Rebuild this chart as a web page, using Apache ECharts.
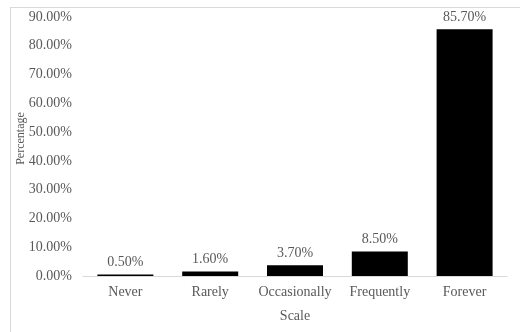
<!DOCTYPE html>
<html>
<head>
<meta charset="utf-8">
<script src="https://cdn.jsdelivr.net/npm/echarts@6/dist/echarts.min.js"></script>
<style>
  html, body { margin: 0; padding: 0; background: #fff; }
  #frame { position: absolute; left: 10px; top: 7px; width: 520px; height: 340px; border: 1px solid #d9d9d9; box-sizing: border-box; }
  #chart { position: absolute; left: 0; top: 0; width: 520px; height: 332px; }
</style>
</head>
<body>
<div id="frame"></div>
<div id="chart"></div>
<script>
// Frequency scale categories and their share of respondents (%)
const categories = ['Never', 'Rarely', 'Occasionally', 'Frequently', 'Forever'];
const percentages = [0.5, 1.6, 3.7, 8.5, 85.7];
const yTicks = { min: 0, max: 90, interval: 10 };

const font = 'Liberation Serif, Times New Roman, serif';
const grey = '#595959';

const chart = echarts.init(document.getElementById('chart'), null, { renderer: 'canvas' });
chart.setOption({
  animation: false,
  backgroundColor: 'transparent',
  grid: { left: 83, right: 13, top: 17, bottom: 56 },
  xAxis: {
    type: 'category',
    data: categories,
    name: 'Scale',
    nameLocation: 'middle',
    nameGap: 33,
    nameTextStyle: { fontFamily: font, fontSize: 14, color: grey },
    axisLine: { lineStyle: { color: '#d9d9d9', width: 1 } },
    axisTick: { show: false },
    axisLabel: { interval: 0, fontFamily: font, fontSize: 14, color: grey, margin: 9 }
  },
  yAxis: {
    type: 'value',
    min: yTicks.min,
    max: yTicks.max,
    interval: yTicks.interval,
    name: 'Percentage',
    nameLocation: 'middle',
    nameGap: 56,
    nameMoveOverlap: false,
    nameTextStyle: { fontFamily: font, fontSize: 12, color: grey, padding: [0, 0, 0, 16] },
    axisLine: { show: false },
    axisTick: { show: false },
    splitLine: { show: false },
    axisLabel: {
      fontFamily: font, fontSize: 14, color: grey, margin: 11,
      formatter: v => v.toFixed(2) + '%'
    }
  },
  series: [{
    type: 'bar',
    data: percentages,
    barWidth: 56,
    itemStyle: { color: '#000000' },
    label: {
      show: true,
      position: 'top',
      distance: 5,
      fontFamily: font,
      fontSize: 14,
      color: grey,
      formatter: p => p.value.toFixed(2) + '%'
    }
  }]
});
</script>
</body>
</html>
